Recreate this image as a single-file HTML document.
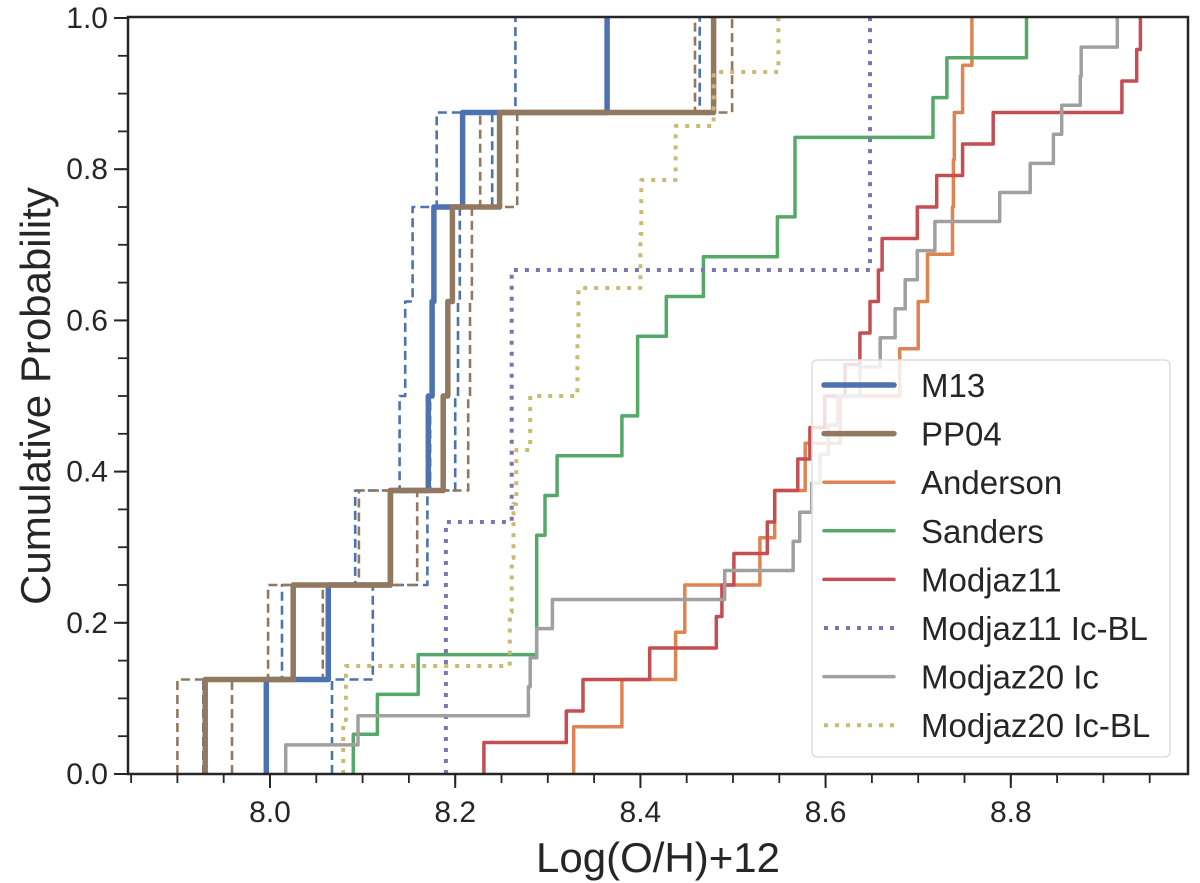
<!DOCTYPE html>
<html><head><meta charset="utf-8"><style>
html,body{margin:0;padding:0;background:#fff;}
svg{display:block;font-family:"Liberation Sans",Arial,sans-serif;}
</style></head><body>
<svg id="chart" width="1200" height="883" viewBox="0 0 1200 883" xmlns="http://www.w3.org/2000/svg">
<defs><clipPath id="plotclip"><rect x="128" y="17" width="1060" height="757"/></clipPath></defs>
<rect x="0" y="0" width="1200" height="883" fill="#fff"/>
<g id="series" clip-path="url(#plotclip)"></g>
<g id="axes"></g>
<text x="658" y="872" font-size="42" text-anchor="middle" fill="#262626">Log(O/H)+12</text>
<text x="0" y="0" font-size="42" text-anchor="middle" fill="#262626" transform="translate(50,396) rotate(-90)">Cumulative Probability</text>
<g id="legend"></g>
</svg>
<script>
const seriesNames = ["M13 low","PP04 low","M13 high","PP04 high","M13","PP04","Anderson","Sanders","Modjaz11","Modjaz11 Ic-BL","Modjaz20 Ic","Modjaz20 Ic-BL"];
const m13Low = [7.928,8.013,8.092,8.140,8.146,8.154,8.180,8.265];
const pp04Low = [7.900,7.998,8.096,8.173,8.175,8.177,8.227,8.459];
const m13High = [8.067,8.111,8.170,8.200,8.203,8.205,8.240,8.464];
const pp04High = [7.959,8.057,8.159,8.214,8.216,8.218,8.267,8.499];
const m13 = [7.996,8.063,8.130,8.171,8.175,8.177,8.208,8.364];
const pp04 = [7.930,8.025,8.130,8.187,8.192,8.197,8.248,8.479];
const anderson = [8.328,8.380,8.438,8.448,8.529,8.545,8.578,8.616,8.680,8.700,8.710,8.737,8.738,8.739,8.748,8.758];
const sanders = [8.090,8.116,8.160,8.288,8.288,8.288,8.297,8.310,8.380,8.397,8.397,8.428,8.468,8.548,8.567,8.567,8.716,8.731,8.817];
const modjaz11 = [8.231,8.320,8.338,8.410,8.482,8.488,8.501,8.537,8.545,8.570,8.583,8.599,8.621,8.637,8.648,8.657,8.661,8.699,8.720,8.748,8.781,8.920,8.936,8.940];
const modjaz11BL = [8.190,8.261,8.648];
const modjaz20Ic = [8.017,8.095,8.279,8.281,8.288,8.305,8.491,8.565,8.572,8.585,8.594,8.603,8.613,8.637,8.659,8.675,8.686,8.699,8.718,8.788,8.821,8.846,8.855,8.875,8.876,8.915];
const modjaz20BL = [8.079,8.082,8.259,8.261,8.263,8.266,8.281,8.332,8.333,8.400,8.401,8.438,8.479,8.549];
const xTicks = [8.0,8.2,8.4,8.6,8.8];
const xTickLabels = ["8.0","8.2","8.4","8.6","8.8"];
const yTicks = [0,0.2,0.4,0.6,0.8,1.0];
const yTickLabels = ["0.0","0.2","0.4","0.6","0.8","1.0"];
const legendLabels = ["M13","PP04","Anderson","Sanders","Modjaz11","Modjaz11 Ic-BL","Modjaz20 Ic","Modjaz20 Ic-BL"];

const NS="http://www.w3.org/2000/svg";
function X(v){return 270+(v-8)*926;}
function Y(p){return 774-p*756;}
const styles = {
 "M13 low":{c:"#4C72B0",w:2.6,d:"9,5",name:"m13-low-dashed-line"},
 "PP04 low":{c:"#937860",w:2.6,d:"9,5",name:"pp04-low-dashed-line"},
 "M13 high":{c:"#4C72B0",w:2.6,d:"9,5",name:"m13-high-dashed-line"},
 "PP04 high":{c:"#937860",w:2.6,d:"9,5",name:"pp04-high-dashed-line"},
 "M13":{c:"#4C72B0",w:5.5,d:null,name:"m13-line"},
 "PP04":{c:"#937860",w:5.5,d:null,name:"pp04-line"},
 "Anderson":{c:"#DD8452",w:3.5,d:null,name:"anderson-line"},
 "Sanders":{c:"#55A868",w:3.5,d:null,name:"sanders-line"},
 "Modjaz11":{c:"#C44E52",w:3.5,d:null,name:"modjaz11-line"},
 "Modjaz11 Ic-BL":{c:"#8172B3",w:4,d:"4,7",name:"modjaz11-icbl-line"},
 "Modjaz20 Ic":{c:"#A0A0A0",w:3.5,d:null,name:"modjaz20-ic-line"},
 "Modjaz20 Ic-BL":{c:"#CCB974",w:4,d:"4,7",name:"modjaz20-icbl-line"}
};
const data = {"M13 low":m13Low,"PP04 low":pp04Low,"M13 high":m13High,"PP04 high":pp04High,"M13":m13,"PP04":pp04,"Anderson":anderson,"Sanders":sanders,"Modjaz11":modjaz11,"Modjaz11 Ic-BL":modjaz11BL,"Modjaz20 Ic":modjaz20Ic,"Modjaz20 Ic-BL":modjaz20BL};
const order = ["M13 low","PP04 low","M13 high","PP04 high","M13","PP04","Anderson","Sanders","Modjaz11","Modjaz11 Ic-BL","Modjaz20 Ic","Modjaz20 Ic-BL"];
const sg=document.getElementById('series');
order.forEach(function(k){
  const vals=data[k].slice().sort(function(a,b){return a-b;});
  const n=vals.length;
  let d="M"+X(vals[0]).toFixed(1)+","+Y(0).toFixed(1);
  for(let i=0;i<n;i++){
    const x=X(vals[i]).toFixed(1);
    if(i>0) d+=" L"+x+","+Y(i/n).toFixed(1);
    d+=" L"+x+","+Y((i+1)/n).toFixed(1);
  }
  const s=styles[k];
  const p=document.createElementNS(NS,'path');
  p.setAttribute('d',d);
  p.setAttribute('fill','none');
  p.setAttribute('stroke',s.c);
  p.setAttribute('stroke-width',s.w);
  if(s.d)p.setAttribute('stroke-dasharray',s.d);
  p.setAttribute('stroke-linejoin','round');
  
  
  sg.appendChild(p);
});
const ax=document.getElementById('axes');
function line(x1,y1,x2,y2,w,name){
  const l=document.createElementNS(NS,'line');
  l.setAttribute('x1',x1);l.setAttribute('y1',y1);l.setAttribute('x2',x2);l.setAttribute('y2',y2);
  l.setAttribute('stroke','#262626');l.setAttribute('stroke-width',w);
  
  
  ax.appendChild(l);
}
function text(x,y,s,anchor,size,name){
  const t=document.createElementNS(NS,'text');
  t.setAttribute('x',x);t.setAttribute('y',y);t.setAttribute('text-anchor',anchor);
  t.setAttribute('font-size',size);t.setAttribute('fill','#262626');
  t.textContent=s;
  
  
  return t;
}
// minor x ticks
for(let i=0;i<=22;i++){const v=7.85+i*0.05;const x=X(v);if(x<128||x>1188)continue;line(x,774,x,783,1.8,'x-minor-tick');}
xTicks.forEach(function(v,i){const x=X(v);line(x,774,x,788,2,'x-major-tick');ax.appendChild(text(x,822,xTickLabels[i],'middle',30,'x-tick-label'));});
for(let i=0;i<=20;i++){const y=Y(i*0.05);line(118,y,128,y,1.8,'y-minor-tick');}
yTicks.forEach(function(v,i){const y=Y(v);line(114,y,128,y,2,'y-major-tick');ax.appendChild(text(108,y+10,yTickLabels[i],'end',30,'y-tick-label'));});
const frame=document.createElementNS(NS,'rect');
frame.setAttribute('x',128);frame.setAttribute('y',17);frame.setAttribute('width',1060);frame.setAttribute('height',757);
frame.setAttribute('fill','none');frame.setAttribute('stroke','#262626');frame.setAttribute('stroke-width',2.5);


ax.appendChild(frame);
// legend
const lg=document.getElementById('legend');
const box=document.createElementNS(NS,'rect');
box.setAttribute('x',812);box.setAttribute('y',360);box.setAttribute('width',358);box.setAttribute('height',397);
box.setAttribute('rx',5);box.setAttribute('fill','rgba(255,255,255,0.82)');box.setAttribute('stroke','#dedede');box.setAttribute('stroke-width',1.5);


lg.appendChild(box);
const legKeys=["M13","PP04","Anderson","Sanders","Modjaz11","Modjaz11 Ic-BL","Modjaz20 Ic","Modjaz20 Ic-BL"];
legKeys.forEach(function(k,i){
  const s=styles[k];const y=385+i*48.6;
  const l=document.createElementNS(NS,'line');
  l.setAttribute('x1',824);l.setAttribute('x2',894);l.setAttribute('y1',y);l.setAttribute('y2',y);
  l.setAttribute('stroke',s.c);l.setAttribute('stroke-width',s.w);
  if(s.d)l.setAttribute('stroke-dasharray',s.d);else l.setAttribute('stroke-linecap','round');
  
  
  lg.appendChild(l);
  const t=text(921,y+12,legendLabels[i],'start',33,'legend-entry');
  lg.appendChild(t);
});
</script>
</body></html>
